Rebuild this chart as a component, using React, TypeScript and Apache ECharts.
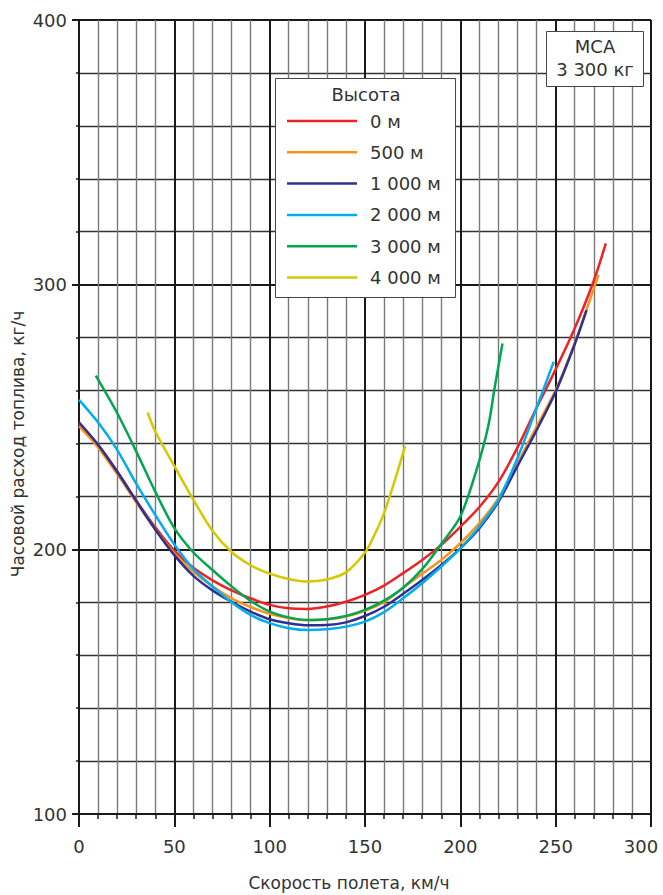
import React, { useEffect, useRef } from "react";
import * as echarts from "echarts";

const FONT = "DejaVu Sans";

const xMin = 0;
const xMax = 300;
const xStep = 50;
const yMin = 100;
const yMax = 400;
const yStep = 100;

const seriesNames = ["0 м", "500 м", "1 000 м", "2 000 м", "3 000 м", "4 000 м"];
const seriesColors = ["#ec2227", "#f7941d", "#2e3192", "#00aeef", "#00a650", "#d6c800"];

const alt0: [number, number][] = [
  [0, 247.5], [10, 239.5], [20, 229.5], [30, 218.5], [40, 208.3], [50, 199.5], [60, 193], [70, 188.3],
  [80, 184.5], [90, 181.5], [100, 179], [110, 177.7], [120, 177.5], [130, 178.4], [140, 180.2],
  [150, 182.8], [160, 186.3], [170, 191], [180, 196], [190, 201.7], [200, 208.5], [210, 216],
  [220, 225.5], [230, 238.5], [240, 253.5], [250, 268], [260, 283.5], [270, 301.5], [276.3, 315.6],
];
const alt500: [number, number][] = [
  [0, 246.5], [10, 238.5], [20, 228.5], [30, 217.8], [40, 207.5], [50, 198.5], [60, 191.5], [70, 186],
  [80, 181.5], [90, 178.2], [100, 175.6], [110, 174], [120, 173.3], [130, 173.5], [140, 174.6],
  [150, 176.8], [160, 180], [170, 185.5], [180, 190.8], [190, 196], [200, 202.3], [210, 209.9],
  [220, 219.3], [230, 232.5], [240, 246.4], [250, 260.2], [260, 278], [270, 298.5], [272.5, 303.7],
];
const alt1000: [number, number][] = [
  [0, 248], [10, 239.5], [20, 229.3], [30, 218.3], [40, 207.5], [50, 197.8], [60, 190], [70, 184.5],
  [80, 180.2], [90, 176.5], [100, 173.6], [110, 172.1], [120, 171.3], [130, 171.4], [140, 172.4],
  [150, 174.8], [160, 178.3], [170, 183.2], [180, 188.4], [190, 194.1], [200, 200.4], [210, 208],
  [220, 218], [230, 231.5], [240, 245], [250, 259.5], [260, 277.5], [266.2, 290.4],
];
const alt2000: [number, number][] = [
  [0, 256.5], [10, 248], [20, 237.6], [30, 224.8], [40, 213], [50, 201.8], [60, 192.5], [70, 186],
  [80, 180], [90, 175.2], [100, 172.1], [110, 170.2], [120, 169.5], [130, 169.8], [140, 170.8],
  [150, 172.7], [160, 176.3], [170, 181.5], [180, 187.2], [190, 193.5], [200, 200.4], [210, 208.6],
  [220, 218.7], [230, 234.5], [240, 253.5], [249, 270.9],
];
const alt3000: [number, number][] = [
  [8.8, 265.6], [20, 251.5], [30, 237], [40, 221.8], [50, 208], [60, 198.8], [70, 192.2], [80, 186],
  [90, 180.5], [100, 176.5], [110, 174.3], [120, 173.3], [130, 173.6], [140, 174.8], [150, 177.1],
  [160, 180.6], [170, 185.5], [180, 192.5], [190, 202], [200, 212.4], [208.5, 230], [214.6, 246.4],
  [218.1, 261.5], [222.1, 277.8],
];
const alt4000: [number, number][] = [
  [36, 251.7], [40, 244.5], [50, 231.5], [60, 218.7], [70, 207], [80, 199], [90, 194], [100, 190.8],
  [110, 188.8], [120, 187.8], [130, 188.6], [140, 191.3], [150, 198.8], [155, 205.5],
  [160, 213.7], [165, 224.5], [171, 239],
];

const seriesData = [alt0, alt500, alt1000, alt2000, alt3000, alt4000];

const legendTitle = "Высота";
const noteLines = ["МСА", "3 300 кг"];
const xName = "Скорость полета, км/ч";
const yName = "Часовой расход топлива, кг/ч";

export default function App() {
  const ref = useRef<HTMLDivElement>(null);

  useEffect(() => {
    if (!ref.current) return;
    const chart = echarts.init(ref.current, undefined, { renderer: "svg" });
    const txt = (text: string, x: number, y: number, size: number, extra: any = {}) => ({
      type: "text",
      x,
      y,
      z: 10,
      ...extra,
      style: {
        text,
        fontSize: size,
        fontFamily: FONT,
        fill: "#333",
        align: "center",
        verticalAlign: "middle",
        textAlign: "center",
        textVerticalAlign: "middle",
      },
    });
    chart.setOption({
      animation: false,
      textStyle: { fontFamily: FONT },
      grid: { left: 79, right: 12, top: 20, bottom: 81, containLabel: false, outerBoundsMode: "none" },
      xAxis: {
        type: "value",
        min: xMin,
        max: xMax,
        interval: xStep,
        axisLine: { show: true, lineStyle: { color: "#1a1a1a", width: 2 } },
        axisTick: { show: true, length: 13, lineStyle: { color: "#1a1a1a", width: 2 } },
        minorTick: { show: true, splitNumber: 5, length: 5, lineStyle: { color: "#1a1a1a", width: 1.5 } },
        splitLine: { show: true, lineStyle: { color: "#1a1a1a", width: 2 } },
        minorSplitLine: { show: true, lineStyle: { color: "#7a7a7a", width: 1.4 } },
        axisLabel: {
          margin: 23,
          fontSize: 18,
          color: "#333",
          fontFamily: FONT,
          formatter: (v: number) => (v === xMax ? "{r|" + v + "}" : String(v)),
          rich: { r: { padding: [0, 20, 0, 0], fontSize: 18, color: "#333", fontFamily: FONT } },
        },
      },
      yAxis: {
        type: "value",
        min: yMin,
        max: yMax,
        interval: yStep,
        axisLine: { show: true, lineStyle: { color: "#1a1a1a", width: 2 } },
        axisTick: { show: true, length: 7, lineStyle: { color: "#1a1a1a", width: 2 } },
        minorTick: { show: true, splitNumber: 5, length: 3, lineStyle: { color: "#1a1a1a", width: 1.5 } },
        splitLine: { show: true, lineStyle: { color: "#1a1a1a", width: 2 } },
        minorSplitLine: { show: true, lineStyle: { color: "#333", width: 1.3 } },
        axisLabel: { margin: 12, fontSize: 18, color: "#333", fontFamily: FONT },
      },
      legend: {
        orient: "vertical",
        left: 287,
        top: 110,
        padding: 0,
        icon: "rect",
        itemWidth: 70,
        itemHeight: 2.5,
        itemGap: 9.3,
        selectedMode: false,
        z: 6,
        textStyle: { fontSize: 18, color: "#333", fontFamily: FONT, lineHeight: 22, padding: [0, 0, 0, 8] },
        data: seriesNames,
      },
      graphic: [
        { type: "rect", z: 3, shape: { x: 275.5, y: 78.5, width: 180, height: 219 }, style: { fill: "#fff", stroke: "#444", lineWidth: 1 } },
        { type: "rect", z: 3, shape: { x: 546.5, y: 31.5, width: 97, height: 55 }, style: { fill: "#fff", stroke: "#444", lineWidth: 1 } },
        txt(legendTitle, 366, 94, 18),
        txt(noteLines[0], 595, 46, 18),
        txt(noteLines[1], 595, 69, 18),
        txt(xName, 349, 883, 17),
        txt(yName, 18, 444, 17, { rotation: Math.PI / 2 }),
      ],
      series: seriesData.map((d, i) => ({
        name: seriesNames[i],
        type: "line",
        data: d,
        smooth: 0.3,
        symbol: "none",
        showSymbol: false,
        color: seriesColors[i],
        lineStyle: { color: seriesColors[i], width: 2.5 },
        z: 2 + i * 0.01,
      })),
    });
    return () => chart.dispose();
  }, []);

  return <div ref={ref} style={{ position: "absolute", left: 0, top: 0, width: 663, height: 895 }} />;
}
